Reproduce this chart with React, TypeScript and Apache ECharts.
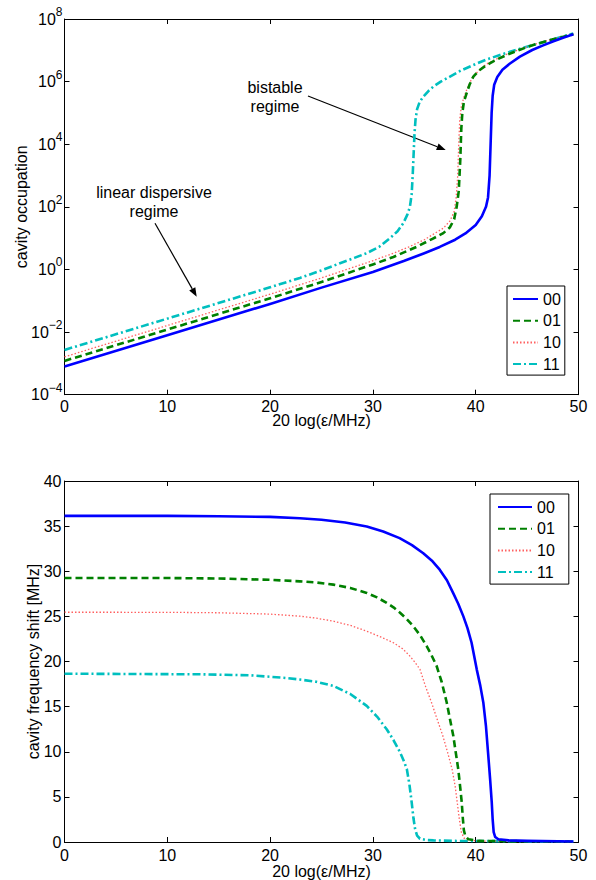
import React, { useEffect, useRef } from 'react';
import * as echarts from 'echarts';

const FONT = '"Liberation Sans", Arial, Helvetica, sans-serif';
const seriesNames = ['00', '01', '10', '11'];

// Top panel: log10(cavity occupation) vs 20 log(eps/MHz)
const occ00X = [0, 10, 20, 25, 30, 33, 35, 36.5, 38, 39, 40, 40.6, 41.0, 41.2, 41.35, 41.45, 41.55, 41.65, 41.8, 42.1, 42.6, 43.3, 44.3, 45.5, 46.5, 47.5, 48.5, 49.5];
const occ00Log = [-3.1, -2.1, -1.1, -0.58, -0.08, 0.27, 0.52, 0.72, 0.95, 1.15, 1.42, 1.7, 2.0, 2.3, 3.0, 4.0, 5.0, 5.55, 5.9, 6.15, 6.38, 6.57, 6.8, 7.01, 7.15, 7.28, 7.4, 7.51];
const occ01X = [0, 10, 20, 25, 30, 32, 34.3, 35.8, 36.85, 37.5, 37.9, 38.15, 38.35, 38.5, 38.6, 38.7, 38.85, 39.12, 39.4, 39.77, 40.3, 41.07, 42, 43.02, 44.3, 45.6, 47.5, 49.5];
const occ01Log = [-2.92, -1.92, -0.92, -0.4, 0.16, 0.4, 0.73, 0.98, 1.16, 1.35, 1.6, 2.0, 2.5, 3.5, 4.5, 5.0, 5.35, 5.63, 5.9, 6.16, 6.35, 6.53, 6.7, 6.85, 7.02, 7.17, 7.35, 7.51];
const occ10X = [0, 10, 20, 25, 30, 32, 33.5, 35, 36.85, 37.5, 37.9, 38.1, 38.25, 38.35, 38.45, 38.6, 38.85, 39.2, 39.7, 40.3, 41.0, 42, 43.0, 44.3, 45.6, 47.5, 49.5];
const occ10Log = [-2.79, -1.79, -0.79, -0.27, 0.28, 0.52, 0.72, 0.95, 1.32, 1.55, 1.85, 2.3, 3.0, 4.0, 4.8, 5.2, 5.5, 5.8, 6.15, 6.35, 6.55, 6.72, 6.87, 7.03, 7.18, 7.36, 7.52];
const occ11X = [0, 10, 20, 22.9, 25, 26.8, 28.2, 29.4, 30.6, 31.66, 32.4, 32.96, 33.35, 33.6, 33.77, 33.87, 33.95, 34.05, 34.15, 34.3, 34.55, 34.9, 35.4, 35.88, 36.6, 37.5, 38.6, 39.77, 41, 42.36, 44, 45.6, 47.5, 49.5];
const occ11Log = [-2.57, -1.57, -0.57, -0.27, -0.03, 0.2, 0.37, 0.52, 0.72, 1.0, 1.22, 1.48, 1.75, 2.0, 2.4, 3.0, 3.6, 4.35, 4.8, 5.12, 5.35, 5.52, 5.7, 5.84, 6.0, 6.16, 6.36, 6.53, 6.7, 6.85, 7.02, 7.17, 7.35, 7.54];

// Bottom panel: cavity frequency shift [MHz]
const shift00X = [0, 10, 15, 20, 22.9, 25, 27.3, 29.4, 31, 32.6, 33.8, 34.9, 35.8, 36.5, 37.2, 37.8, 38.3, 38.8, 39.2, 39.6, 40.1, 40.45, 40.74, 41.0, 41.2, 41.4, 41.56, 41.65, 41.75, 41.9, 42.2, 43.2, 45, 49.5];
const shift00 = [36.14, 36.14, 36.1, 36.02, 35.88, 35.7, 35.4, 34.96, 34.4, 33.67, 32.9, 32.0, 31.1, 30.17, 29.0, 27.6, 26.4, 25.0, 23.7, 22.08, 19.13, 17.3, 15.46, 12.8, 9.94, 7.0, 4.42, 2.5, 1.1, 0.55, 0.3, 0.18, 0.12, 0.05];
const shift01X = [0, 10, 15, 20, 22.9, 24.5, 26.15, 27.8, 29.4, 30.4, 31.34, 32.0, 32.64, 33.3, 33.93, 34.6, 35.23, 35.7, 36.2, 36.7, 37.18, 37.5, 37.82, 38.05, 38.3, 38.5, 38.64, 38.75, 38.85, 39.0, 39.3, 40.3, 49.5];
const shift01 = [29.25, 29.25, 29.2, 29.05, 28.88, 28.75, 28.52, 28.15, 27.6, 27.1, 26.5, 26.0, 25.4, 24.7, 23.9, 22.9, 21.7, 20.7, 19.5, 17.7, 15.46, 13.6, 11.77, 10.0, 8.09, 6.0, 4.42, 2.6, 1.3, 0.6, 0.3, 0.12, 0.05];
const shift10X = [0, 10, 15, 20, 22.9, 24.5, 26.15, 27.8, 29.4, 30.8, 32.0, 32.9, 33.6, 34.1, 34.58, 35.1, 35.7, 36.25, 36.8, 37.25, 37.7, 38.0, 38.2, 38.4, 38.6, 38.85, 39.3, 40.3, 49.5];
const shift10 = [25.46, 25.45, 25.4, 25.25, 25.02, 24.8, 24.47, 24.0, 23.36, 22.7, 22.08, 21.4, 20.6, 19.9, 19.13, 17.3, 15.46, 13.6, 11.77, 10.0, 8.09, 6.2, 4.42, 2.6, 1.1, 0.45, 0.22, 0.1, 0.05];
const shift11X = [0, 13.2, 18.05, 21.3, 22.9, 24.5, 26.15, 27.8, 29.4, 30.4, 31.34, 32.0, 32.64, 33.0, 33.3, 33.55, 33.77, 33.95, 34.1, 34.3, 34.58, 35.2, 35.9, 38, 49.5];
const shift11 = [18.65, 18.58, 18.47, 18.2, 18.0, 17.75, 17.3, 16.4, 15.08, 13.9, 12.5, 11.3, 9.94, 9.0, 8.09, 6.4, 4.42, 2.6, 1.47, 0.7, 0.36, 0.22, 0.18, 0.12, 0.05];

const occX = [occ00X, occ01X, occ10X, occ11X];
const occY = [occ00Log, occ01Log, occ10Log, occ11Log];
const shiftX = [shift00X, shift01X, shift10X, shift11X];
const shiftY = [shift00, shift01, shift10, shift11];

const lineStyles: any[] = [
  { color: '#0000ff', type: 'solid', width: 2.6 },
  { color: '#008000', type: [7, 4], width: 2.6 },
  { color: '#ff6060', type: [1.5, 2], width: 1.3 },
  { color: '#00bfbf', type: [8, 3, 2, 3], width: 2.6 },
];

const pairs = (xs: number[], ys: number[]) => xs.map((x, i) => [x, ys[i]]);

const supText = (v: number) => (v < 0 ? '\u2212' + String(-v) : String(v));

function arrow(x1: number, y1: number, x2: number, y2: number) {
  const dx = x2 - x1;
  const dy = y2 - y1;
  const len = Math.sqrt(dx * dx + dy * dy);
  const ux = dx / len;
  const uy = dy / len;
  const hl = 9;
  const hw = 3.5;
  const bx = x2 - ux * hl;
  const by = y2 - uy * hl;
  return [
    { type: 'line', shape: { x1, y1, x2: bx, y2: by }, style: { stroke: '#000', lineWidth: 1.2 } },
    {
      type: 'polygon',
      shape: { points: [[x2, y2], [bx - uy * hw, by + ux * hw], [bx + uy * hw, by - ux * hw]] },
      style: { fill: '#000' },
    },
  ];
}

export default function App() {
  const ref = useRef<HTMLDivElement>(null);
  useEffect(() => {
    if (!ref.current) return;
    const chart = echarts.init(ref.current, null, { renderer: 'svg' });
    const axisLine = { show: true, onZero: false, lineStyle: { color: '#000', width: 1 } };
    const axisTick = { show: true, inside: true, length: 5, lineStyle: { color: '#000', width: 1 } };
    const labelStyle = { color: '#000', fontSize: 16, fontFamily: FONT };
    const nameStyle = { color: '#000', fontSize: 16, fontFamily: FONT };
    const grids = [
      { left: 64.5, top: 19, width: 514, height: 375.7 },
      { left: 64.5, top: 481, width: 514, height: 362.3 },
    ];
    const xAxes: any[] = [];
    const yAxes: any[] = [];
    [0, 1].forEach((g) => {
      xAxes.push({
        type: 'value', gridIndex: g, min: 0, max: 50, interval: 10, position: 'bottom',
        axisLine, axisTick, splitLine: { show: false },
        axisLabel: { ...labelStyle, margin: g === 0 ? 4 : 5 },
        name: '20 log(\u03b5/MHz)', nameLocation: 'middle', nameGap: g === 0 ? 18 : 21,
        nameMoveOverlap: false,
        nameTextStyle: nameStyle,
      });
      xAxes.push({
        type: 'value', gridIndex: g, min: 0, max: 50, interval: 10, position: 'top',
        axisLine, axisTick, splitLine: { show: false }, axisLabel: { show: false },
      });
    });
    yAxes.push({
      type: 'value', gridIndex: 0, min: -4, max: 8, interval: 2, position: 'left',
      axisLine, axisTick, splitLine: { show: false },
      axisLabel: {
        margin: 2,
        formatter: (v: number) => `{b|10}{s|${supText(v)}}`,
        rich: {
          b: { fontSize: 16, lineHeight: 26, verticalAlign: 'middle', fontFamily: FONT, color: '#000' },
          s: { fontSize: 12, lineHeight: 12, verticalAlign: 'top', fontFamily: FONT, color: '#000' },
        },
      },
      name: 'cavity occupation', nameLocation: 'middle', nameGap: 35, nameMoveOverlap: false,
      nameTextStyle: nameStyle,
    });
    yAxes.push({
      type: 'value', gridIndex: 0, min: -4, max: 8, interval: 2, position: 'right',
      axisLine, axisTick, splitLine: { show: false }, axisLabel: { show: false },
    });
    yAxes.push({
      type: 'value', gridIndex: 1, min: 0, max: 40, interval: 5, position: 'left',
      axisLine, axisTick, splitLine: { show: false },
      axisLabel: { ...labelStyle, margin: 3 },
      name: 'cavity frequency shift [MHz]', nameLocation: 'middle', nameGap: 23, nameMoveOverlap: false,
      nameTextStyle: nameStyle,
    });
    yAxes.push({
      type: 'value', gridIndex: 1, min: 0, max: 40, interval: 5, position: 'right',
      axisLine, axisTick, splitLine: { show: false }, axisLabel: { show: false },
    });

    const series: any[] = [];
    seriesNames.forEach((name, i) => {
      series.push({
        name, type: 'line', xAxisIndex: 0, yAxisIndex: 0, data: pairs(occX[i], occY[i]),
        showSymbol: false, symbol: 'none',
        lineStyle: { ...lineStyles[i], join: 'round' }, itemStyle: { color: lineStyles[i].color },
        z: 10 - i,
      });
    });
    seriesNames.forEach((name, i) => {
      series.push({
        name, type: 'line', xAxisIndex: 2, yAxisIndex: 2, data: pairs(shiftX[i], shiftY[i]),
        showSymbol: false, symbol: 'none',
        lineStyle: { ...lineStyles[i], join: 'round' }, itemStyle: { color: lineStyles[i].color },
        z: 10 - i,
      });
    });

    const legendBase = {
      data: seriesNames, orient: 'vertical', selectedMode: false,
      itemHeight: 14, itemGap: 5.7,
      itemStyle: { opacity: 0 },
      borderColor: '#000', borderWidth: 1, backgroundColor: '#fff',
      textStyle: { color: '#000', fontSize: 16, fontFamily: FONT },
    };

    const textFont = `16px ${FONT}`;
    const graphic: any[] = [
      {
        type: 'text', x: 275, y: 96.5,
        style: { text: 'bistable\nregime', font: textFont, fill: '#000', textAlign: 'center', textVerticalAlign: 'middle', lineHeight: 19 },
      },
      {
        type: 'text', x: 154, y: 202.2,
        style: { text: 'linear dispersive\nregime', font: textFont, fill: '#000', textAlign: 'center', textVerticalAlign: 'middle', lineHeight: 19 },
      },
      ...arrow(308, 96, 445.7, 150),
      ...arrow(155, 223.3, 196.7, 296.7),
    ];

    chart.setOption({
      animation: false,
      backgroundColor: '#fff',
      grid: grids,
      xAxis: xAxes,
      yAxis: yAxes,
      legend: [
        { ...legendBase, left: 507, top: 286, itemWidth: 25, padding: [5, 4, 3, 5] },
        { ...legendBase, left: 490, top: 494, itemWidth: 34, padding: [5, 14, 4, 7] },
      ],
      series,
      graphic,
    });
    return () => chart.dispose();
  }, []);
  return <div ref={ref} style={{ position: 'absolute', left: 0, top: 0, width: 596, height: 880 }} />;
}
